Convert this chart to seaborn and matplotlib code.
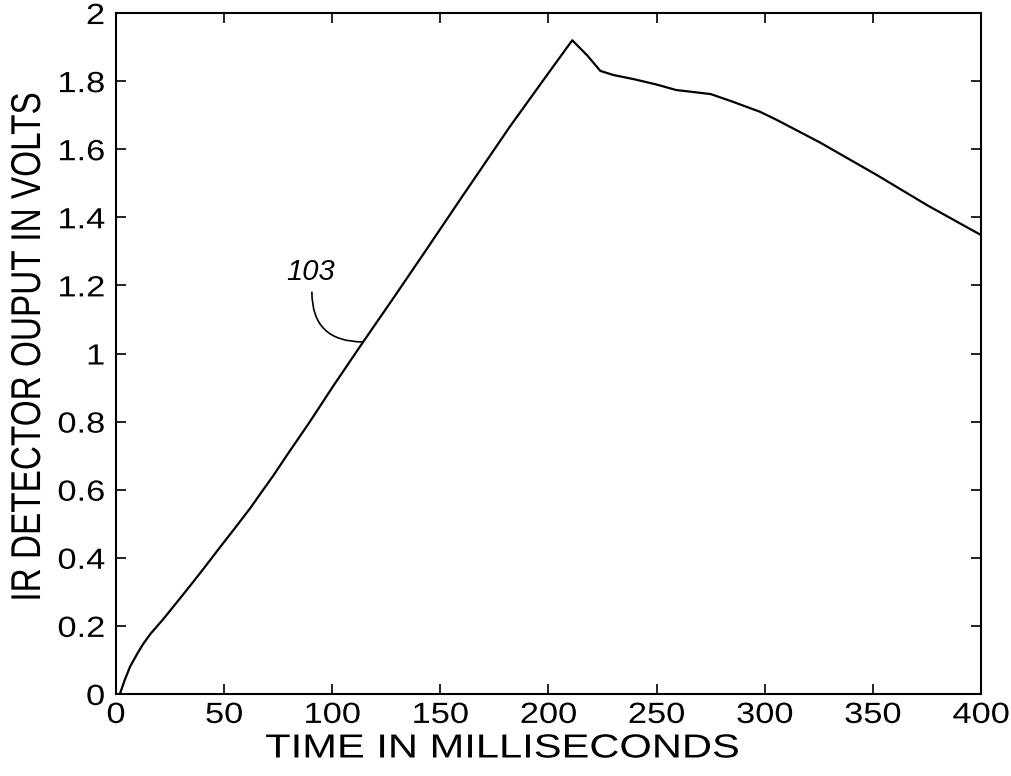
import matplotlib
matplotlib.use('Agg')
import matplotlib.pyplot as plt
import seaborn as sns
from matplotlib.patheffects import AbstractPathEffect
from matplotlib.transforms import Affine2D

# values
time_ms = [1.8, 4, 6.5, 10, 12.6, 16, 21.9, 28, 34.2, 41, 48, 55, 62, 67, 72.6,
           80, 89.7, 100, 114.3, 128, 143, 160, 182, 199, 211, 218, 224, 230,
           240, 250, 259, 267, 275, 285, 297.8, 305.6, 325.5, 351.9, 375, 400]
volts = [0.0, 0.04, 0.08, 0.12, 0.147, 0.177, 0.22, 0.268, 0.317, 0.372, 0.43,
         0.487, 0.545, 0.59, 0.64, 0.71, 0.80, 0.90, 1.034, 1.16, 1.30, 1.46,
         1.665, 1.815, 1.92, 1.875, 1.83, 1.818, 1.805, 1.79, 1.774, 1.768,
         1.762, 1.74, 1.71, 1.686, 1.62, 1.524, 1.436, 1.348]

x_ticks = [0, 50, 100, 150, 200, 250, 300, 350, 400]
y_ticks = [0, 0.2, 0.4, 0.6, 0.8, 1.0, 1.2, 1.4, 1.6, 1.8, 2.0]
y_tick_labels = ['0', '0.2', '0.4', '0.6', '0.8', '1', '1.2', '1.4', '1.6', '1.8', '2']

label_id = '103'
label_pos = (90.2, 1.239)
leader_start = (90.6, 1.18)
leader_end = (114.3, 1.034)


class Widen(AbstractPathEffect):
    # the scan is stretched sideways, so stretch the glyphs the same way
    def __init__(self, sx=1.25, anchor='center'):
        super().__init__()
        self.sx = sx
        self.anchor = anchor

    def draw_path(self, renderer, gc, tpath, affine, rgbFace=None):
        ext = tpath.get_extents(affine)
        if self.anchor == 'right':
            x0 = ext.x1
        elif self.anchor == 'left':
            x0 = ext.x0
        else:
            x0 = (ext.x0 + ext.x1) / 2
        affine = affine + Affine2D().translate(-x0, 0).scale(self.sx, 1).translate(x0, 0)
        renderer.draw_path(gc, tpath, affine, rgbFace)


sns.set_style('ticks')
plt.rcParams['font.family'] = ['Liberation Sans', 'DejaVu Sans']
plt.rcParams['text.color'] = 'black'
plt.rcParams['axes.labelcolor'] = 'black'

fig = plt.figure(figsize=(10.11, 7.76), dpi=100)
ax = fig.add_axes([0.1147, 0.1057, 0.8556, 0.8775])

sns.lineplot(x=time_ms, y=volts, color='black', linewidth=1.6, ax=ax)

ax.set_xlim(0, 400)
ax.set_ylim(0, 2)
ax.set_xticks(x_ticks)
ax.set_yticks(y_ticks)
ax.set_yticklabels(y_tick_labels)
ax.tick_params(direction='in', length=7, width=1.2, top=True, right=True,
               labelsize=21, colors='black')
ax.tick_params(axis='x', pad=5)
ax.tick_params(axis='y', pad=8)
for s in ax.spines.values():
    s.set_visible(True)
    s.set_color('black')
    s.set_linewidth(1.5)

ax.set_xlabel('TIME IN MILLISECONDS', fontsize=24)
ax.set_ylabel('IR DETECTOR OUPUT IN VOLTS', fontsize=24)
ax.xaxis.set_label_coords(0.447, -0.058)
ax.yaxis.set_label_coords(-0.083, 0.51)

for lbl in ax.get_xticklabels():
    lbl.set_path_effects([Widen(sx=1.18, anchor='center')])
for lbl in ax.get_yticklabels():
    lbl.set_path_effects([Widen(sx=1.18, anchor='right')])
ax.xaxis.label.set_path_effects([Widen(anchor='center')])
ax.yaxis.label.set_path_effects([Widen(anchor='center')])

ax.text(label_pos[0], label_pos[1], label_id, fontsize=21, style='italic',
        ha='center', va='center', color='black')
ax.annotate('', xy=leader_end, xytext=leader_start,
            arrowprops=dict(arrowstyle='-', color='black', lw=1.2,
                            shrinkA=0, shrinkB=0,
                            connectionstyle='angle3,angleA=90,angleB=0'))

fig.savefig('out.png', dpi=100)
